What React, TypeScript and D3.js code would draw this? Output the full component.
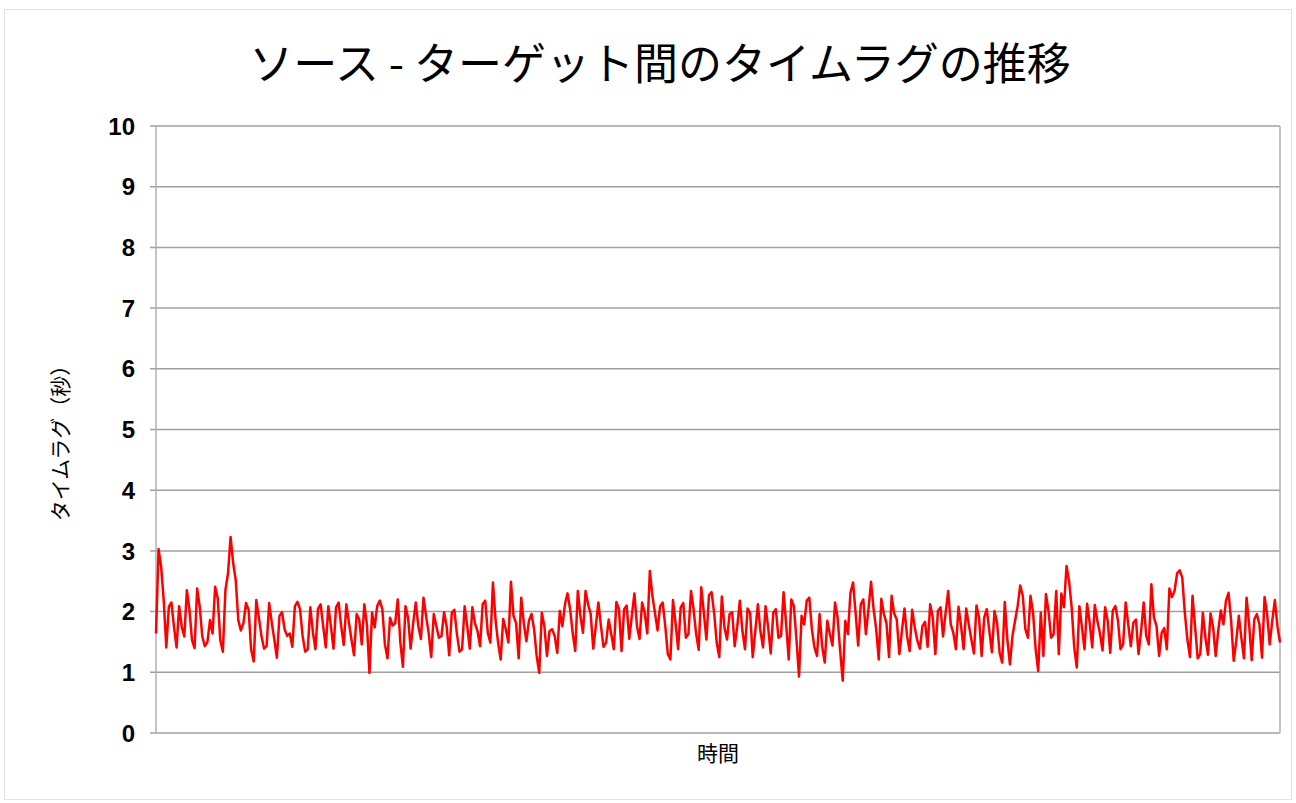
import React from "react";
import * as d3 from "d3";

const title = "ソース - ターゲット間のタイムラグの推移";
const yLabel = "タイムラグ（秒）";
const xLabel = "時間";
const yTicks = [0, 1, 2, 3, 4, 5, 6, 7, 8, 9, 10];

const seg1 = [1.64,3.03,2.74,2.19,1.41,2.08,2.15,1.75,1.41,2.09,1.75,1.59,2.35,2.03,1.53,1.4,2.38,2.08,1.59,1.43,1.5,1.86,1.64,2.41,2.22,1.53,1.34,2.36,2.63,3.23,2.8,2.52,1.86,1.69,1.81,2.14,2.03,1.37,1.18,2.19];
const seg2 = [1.9,1.6,1.39,1.43,2.14,1.82,1.54,1.24,1.93,1.99,1.71,1.6,1.64,1.42,2.09,2.16,2.04,1.6,1.34,1.38,2.07,1.66,1.38,2.05,2.12,1.76,1.41,2.09,1.76,1.39,2.07,2.15,1.76,1.45,2.12,1.82,1.54,1.28,1.96,1.87,1.46,2.12];
const seg3 = [1.79,0.99,1.98,1.74,2.09,2.18,2.04,1.46,1.23,1.9,1.77,1.81,2.2,1.49,1.09,2.09,1.9,1.39,1.81,2.15,1.76,1.55,2.23,1.93,1.65,1.25,1.96,1.76,1.57,1.6,1.99,1.76,1.28,1.98,2.03,1.63,1.34,1.38,2.09,1.76,1.39,2.07];
const seg4 = [1.81,1.68,1.43,2.12,2.18,1.65,1.49,2.48,1.87,1.49,1.21,1.88,1.71,1.49,2.49,1.93,1.81,1.23,2.23,1.81,1.51,1.85,1.96,1.71,1.27,0.99,1.98,1.76,1.27,1.68,1.71,1.6,1.32,2.01,1.76,2.12,2.3,2.04,1.65,1.35,2.34,1.93,1.65,2.34];
const seg5 = [2.12,1.96,1.39,1.76,2.15,1.76,1.42,1.49,1.87,1.63,1.38,2.16,2.04,1.35,2.04,2.1,1.55,1.93,2.3,1.76,1.55,2.15,1.98,1.64,2.67,2.26,1.98,1.69,2.09,2.15,1.76,1.3,1.21,2.19,1.81,1.38,2.07,2.14,1.57,1.63,2.34,2.04,1.63,1.37,2.4];
const seg6 = [1.98,1.54,2.27,2.32,1.98,1.49,1.25,2.25,1.74,1.54,1.96,1.99,1.43,1.76,2.18,1.68,1.38,2.05,1.98,1.25,1.68,2.12,1.68,1.41,2.09,1.74,1.31,1.98,2.04,1.57,1.6,2.32,1.79,1.21,2.2,2.09,1.54,0.93,1.93,1.79,2.18,2.23,1.71];
const seg7 = [1.41,1.27,1.96,1.43,1.16,1.85,1.63,1.44,2.15,1.9,1.35,0.86,1.85,1.63,2.31,2.48,1.98,1.44,2.12,2.2,1.63,2.04,2.49,2.04,1.71,1.21,2.21,1.96,1.81,1.25,2.26,1.97,1.87,1.3,1.68,2.05,1.6,1.35,2.03,1.74,1.52,1.39,1.76,1.83];
const seg8 = [1.42,2.12,1.9,1.3,2.01,2.07,1.59,1.98,2.34,1.79,1.65,1.38,2.08,1.76,1.38,2.05,1.79,1.54,1.31,2.1,1.9,1.27,1.9,2.04,1.68,1.33,2.01,1.81,1.32,1.16,2.16,1.54,1.13,1.6,1.85,2.09,2.43,2.26,1.71,1.57,2.26,1.98,1.38,1.02];
const seg9 = [1.98,1.27,2.29,2.01,1.57,1.63,2.34,1.3,2.3,2.07,2.75,2.5,2.07,1.41,1.08,2.09,1.74,1.38,2.13,1.82,1.41,2.11,1.85,1.64,1.36,2.07,1.85,1.32,2.02,2.09,1.85,1.38,1.46,2.15,1.79,1.43,1.82,1.87,1.3];
const seg10 = [1.68,2.15,1.6,1.46,2.45,1.9,1.76,1.27,1.65,1.73,1.38,2.38,2.24,2.34,2.63,2.68,2.56,1.98,1.54,1.25,2.26,1.74,1.23,1.3,1.98,1.57,1.29,1.97,1.74,1.27,1.69,2.02,1.79,2.18,2.31,1.85,1.19,1.52,1.93,1.56,1.23,2.23,1.79,1.2,1.87,1.96,1.79,1.24,2.24,1.96,1.46,1.85,2.19,1.76,1.49];

const lagSeconds: number[] = [
  ...seg1, ...seg2, ...seg3, ...seg4, ...seg5,
  ...seg6, ...seg7, ...seg8, ...seg9, ...seg10,
];

const W = 1296;
const H = 803;
const M = { left: 156, right: 1280, top: 126, bottom: 733 };

export default function App() {
  const x = d3.scaleLinear().domain([0, lagSeconds.length - 1]).range([M.left, M.right]);
  const y = d3.scaleLinear().domain([0, 10]).range([M.bottom, M.top]);
  const line = d3
    .line<number>()
    .x((_, i) => x(i))
    .y((d) => y(d));

  const cjk = "'Noto Sans CJK JP', 'Noto Sans', sans-serif";
  const num = "'Liberation Sans', Arial, sans-serif";

  return (
    <svg
      width={W}
      height={H}
      style={{ position: "absolute", left: 0, top: 0, background: "#fff" }}
    >
      <rect x={4.5} y={9.5} width={1287} height={790} fill="#fff" stroke="#e3e3e3" />
      <text
        x={660}
        y={80}
        textAnchor="middle"
        fontFamily={cjk}
        fontSize={44}
        fontWeight={400}
        fill="#000"
      >
        {title}
      </text>
      {yTicks.map((t) => (
        <g key={t}>
          <line
            x1={M.left - 6}
            x2={M.right}
            y1={y(t)}
            y2={y(t)}
            stroke="#a0a0a0"
            strokeWidth={1.5}
          />
          <text
            x={M.left - 21}
            y={y(t)}
            dy="0.36em"
            textAnchor="end"
            fontFamily={num}
            fontWeight="bold"
            fontSize={24}
            fill="#000"
          >
            {t}
          </text>
        </g>
      ))}
      <line x1={M.left} x2={M.left} y1={M.top} y2={M.bottom} stroke="#b0b0b0" strokeWidth={1.5} />
      <line x1={M.right} x2={M.right} y1={M.top} y2={M.bottom} stroke="#b0b0b0" strokeWidth={1.5} />
      <path d={line(lagSeconds) || ""} fill="none" stroke="#ff0000" strokeWidth={2.5} strokeLinejoin="round" />
      <text
        x={61}
        y={438}
        textAnchor="middle"
        fontFamily={cjk}
        fontSize={21}
        fill="#000"
        transform="rotate(-90 61 438)"
        dy="0.35em"
      >
        {yLabel}
      </text>
      <text
        x={718}
        y={754}
        textAnchor="middle"
        dy="0.35em"
        fontFamily={cjk}
        fontSize={21}
        fill="#000"
      >
        {xLabel}
      </text>
    </svg>
  );
}
